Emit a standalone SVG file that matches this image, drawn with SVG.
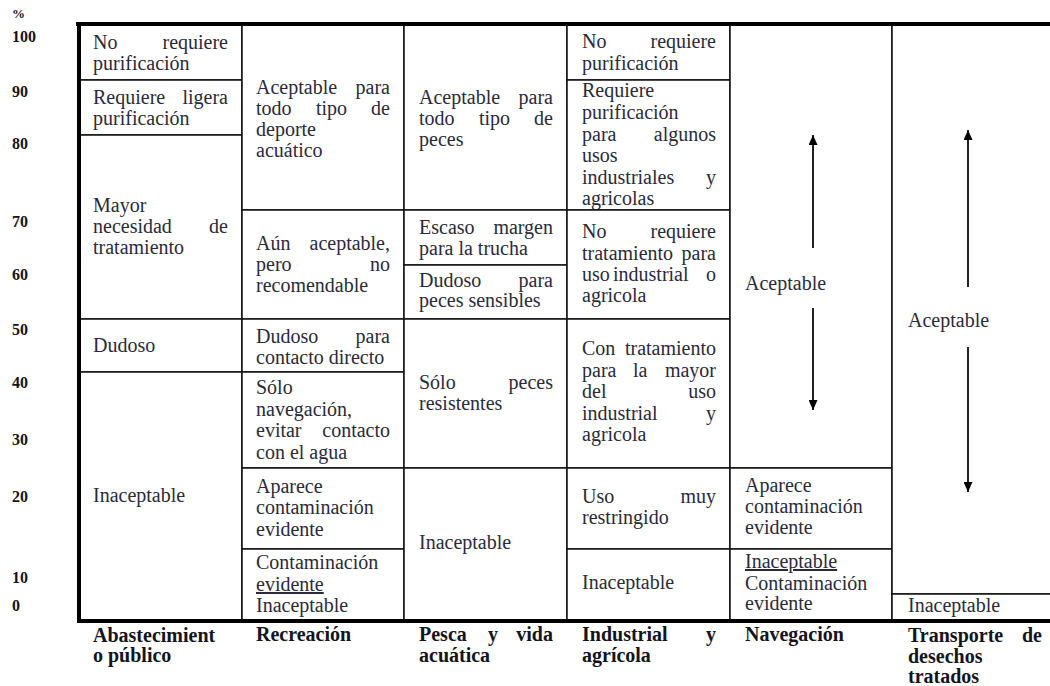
<svg xmlns="http://www.w3.org/2000/svg" width="1050" height="686" viewBox="0 0 1050 686">
<style>
text{font-family:"Liberation Serif","Times New Roman",serif;font-size:20px;fill:#2a2a3a}
.e{text-anchor:end}
.h{font-weight:bold;fill:#141420}
.ax{font-weight:bold;font-size:16px;fill:#141420}
.u{text-decoration:underline}
.cell{fill:#fff;stroke:#111;stroke-width:1.5}
.frame{stroke:#000;stroke-width:4;fill:none}
.arr{stroke:#222;stroke-width:2;fill:none;marker-end:url(#ah)}
</style>
<defs>
<marker id="ah" markerUnits="userSpaceOnUse" markerWidth="10" markerHeight="9" refX="10" refY="4.5" orient="auto">
<path d="M0,0 L10,4.5 L0,9 z" fill="#000"/>
</marker>
</defs>
<rect width="1050" height="686" fill="#fff"/>

<g id="axis">
<text class="ax" x="12" y="18" font-size="13" style="font-size:13px">%</text>
<text class="ax" x="12" y="42">100</text>
<text class="ax" x="12" y="97">90</text>
<text class="ax" x="12" y="149">80</text>
<text class="ax" x="12" y="227">70</text>
<text class="ax" x="12" y="280">60</text>
<text class="ax" x="12" y="335">50</text>
<text class="ax" x="12" y="388">40</text>
<text class="ax" x="12" y="445">30</text>
<text class="ax" x="12" y="502">20</text>
<text class="ax" x="12" y="583">10</text>
<text class="ax" x="12" y="611">0</text>
</g>

<!-- Column 1 -->
<g id="c1a"><rect class="cell" x="79" y="24" width="163" height="56"/>
<text x="93" y="49">No</text><text class="e" x="228" y="49">requiere</text>
<text x="93" y="70">purificación</text></g>
<g id="c1b"><rect class="cell" x="79" y="80" width="163" height="55"/>
<text x="93" y="104">Requiere</text><text class="e" x="228" y="104">ligera</text>
<text x="93" y="125">purificación</text></g>
<g id="c1c"><rect class="cell" x="79" y="135" width="163" height="184"/>
<text x="93" y="212">Mayor</text>
<text x="93" y="233">necesidad</text><text class="e" x="228" y="233">de</text>
<text x="93" y="254">tratamiento</text></g>
<g id="c1d"><rect class="cell" x="79" y="319" width="163" height="53"/>
<text x="93" y="352">Dudoso</text></g>
<g id="c1e"><rect class="cell" x="79" y="372" width="163" height="249"/>
<text x="93" y="502">Inaceptable</text></g>

<!-- Column 2 -->
<g id="c2a"><rect class="cell" x="242" y="24" width="162" height="186"/>
<text x="256" y="94">Aceptable</text><text class="e" x="390" y="94">para</text>
<text x="256" y="115">todo</text><text x="316" y="115">tipo</text><text class="e" x="390" y="115">de</text>
<text x="256" y="136">deporte</text>
<text x="256" y="157">acuático</text></g>
<g id="c2b"><rect class="cell" x="242" y="210" width="162" height="109"/>
<text x="256" y="250">Aún</text><text class="e" x="390" y="250">aceptable,</text>
<text x="256" y="271">pero</text><text class="e" x="390" y="271">no</text>
<text x="256" y="292">recomendable</text></g>
<g id="c2c"><rect class="cell" x="242" y="319" width="162" height="53"/>
<text x="256" y="343">Dudoso</text><text class="e" x="390" y="343">para</text>
<text x="256" y="364">contacto directo</text></g>
<g id="c2d"><rect class="cell" x="242" y="372" width="162" height="96"/>
<text x="256" y="394">Sólo</text>
<text x="256" y="416">navegación,</text>
<text x="256" y="437">evitar</text><text class="e" x="390" y="437">contacto</text>
<text x="256" y="459">con el agua</text></g>
<g id="c2e"><rect class="cell" x="242" y="468" width="162" height="81"/>
<text x="256" y="493">Aparece</text>
<text x="256" y="514">contaminación</text>
<text x="256" y="536">evidente</text></g>
<g id="c2f"><rect class="cell" x="242" y="549" width="162" height="72"/>
<text x="256" y="569">Contaminación</text>
<text class="u" x="256" y="591">evidente</text>
<text x="256" y="612">Inaceptable</text></g>

<!-- Column 3 -->
<g id="c3a"><rect class="cell" x="404" y="24" width="163" height="186"/>
<text x="419" y="104">Aceptable</text><text class="e" x="553" y="104">para</text>
<text x="419" y="125">todo</text><text x="479" y="125">tipo</text><text class="e" x="553" y="125">de</text>
<text x="419" y="146">peces</text></g>
<g id="c3b"><rect class="cell" x="404" y="210" width="163" height="55"/>
<text x="419" y="234">Escaso</text><text class="e" x="553" y="234">margen</text>
<text x="419" y="255">para la trucha</text></g>
<g id="c3c"><rect class="cell" x="404" y="265" width="163" height="54"/>
<text x="419" y="287">Dudoso</text><text class="e" x="553" y="287">para</text>
<text x="419" y="307">peces sensibles</text></g>
<g id="c3d"><rect class="cell" x="404" y="319" width="163" height="149"/>
<text x="419" y="389">Sólo</text><text class="e" x="553" y="389">peces</text>
<text x="419" y="410">resistentes</text></g>
<g id="c3e"><rect class="cell" x="404" y="468" width="163" height="153"/>
<text x="419" y="549">Inaceptable</text></g>

<!-- Column 4 -->
<g id="c4a"><rect class="cell" x="567" y="24" width="163" height="56"/>
<text x="582" y="48">No</text><text class="e" x="716" y="48">requiere</text>
<text x="582" y="70">purificación</text></g>
<g id="c4b"><rect class="cell" x="567" y="80" width="163" height="130"/>
<text x="582" y="97">Requiere</text>
<text x="582" y="119">purificación</text>
<text x="582" y="141">para</text><text class="e" x="716" y="141">algunos</text>
<text x="582" y="162">usos</text>
<text x="582" y="184">industriales</text><text class="e" x="716" y="184">y</text>
<text x="582" y="205">agricolas</text></g>
<g id="c4c"><rect class="cell" x="567" y="210" width="163" height="109"/>
<text x="582" y="238">No</text><text class="e" x="716" y="238">requiere</text>
<text x="582" y="260">tratamiento</text><text class="e" x="716" y="260">para</text>
<text x="582" y="281">uso</text><text x="613" y="281">industrial</text><text class="e" x="716" y="281">o</text>
<text x="582" y="302">agricola</text></g>
<g id="c4d"><rect class="cell" x="567" y="319" width="163" height="149"/>
<text x="582" y="355">Con</text><text class="e" x="716" y="355">tratamiento</text>
<text x="582" y="377">para</text><text x="633" y="377">la</text><text class="e" x="716" y="377">mayor</text>
<text x="582" y="398">del</text><text class="e" x="716" y="398">uso</text>
<text x="582" y="420">industrial</text><text class="e" x="716" y="420">y</text>
<text x="582" y="441">agricola</text></g>
<g id="c4e"><rect class="cell" x="567" y="468" width="163" height="81"/>
<text x="582" y="503">Uso</text><text class="e" x="716" y="503">muy</text>
<text x="582" y="524">restringido</text></g>
<g id="c4f"><rect class="cell" x="567" y="549" width="163" height="72"/>
<text x="582" y="589">Inaceptable</text></g>

<!-- Column 5 -->
<g id="c5a"><rect class="cell" x="730" y="24" width="162" height="444"/>
<text x="745" y="290">Aceptable</text></g>
<g id="c5b"><rect class="cell" x="730" y="468" width="162" height="81"/>
<text x="745" y="492">Aparece</text>
<text x="745" y="513">contaminación</text>
<text x="745" y="534">evidente</text></g>
<g id="c5c"><rect class="cell" x="730" y="549" width="162" height="72"/>
<text class="u" x="745" y="568">Inaceptable</text>
<text x="745" y="590">Contaminación</text>
<text x="745" y="610">evidente</text></g>

<!-- Column 6 -->
<g id="c6a"><rect class="cell" x="892" y="24" width="170" height="570"/>
<text x="908" y="327">Aceptable</text></g>
<g id="c6b"><rect class="cell" x="892" y="594" width="170" height="27"/>
<text x="908" y="612">Inaceptable</text></g>

<g id="frame">
<line class="frame" x1="76" y1="24" x2="1050" y2="24"/>
<line class="frame" x1="79" y1="22" x2="79" y2="623"/>
<line class="frame" x1="77" y1="621" x2="1050" y2="621"/>
</g>

<g id="connectors">
<line class="arr" x1="813" y1="248" x2="813" y2="135"/>
<line class="arr" x1="813" y1="308" x2="813" y2="410"/>
<line class="arr" x1="968" y1="287" x2="968" y2="130"/>
<line class="arr" x1="968" y1="347" x2="968" y2="492"/>
</g>

<g id="headers">
<text class="h" x="93" y="642">Abastecimient</text>
<text class="h" x="93" y="662">o público</text>
<text class="h" x="256" y="641">Recreación</text>
<text class="h" x="419" y="641">Pesca</text><text class="h" x="488" y="641">y</text><text class="h e" x="553" y="641">vida</text>
<text class="h" x="419" y="662">acuática</text>
<text class="h" x="582" y="641">Industrial</text><text class="h e" x="716" y="641">y</text>
<text class="h" x="582" y="662">agrícola</text>
<text class="h" x="745" y="641">Navegación</text>
<text class="h" x="908" y="642">Transporte</text><text class="h e" x="1042" y="642">de</text>
<text class="h" x="908" y="663">desechos</text>
<text class="h" x="908" y="683">tratados</text>
</g>
</svg>
